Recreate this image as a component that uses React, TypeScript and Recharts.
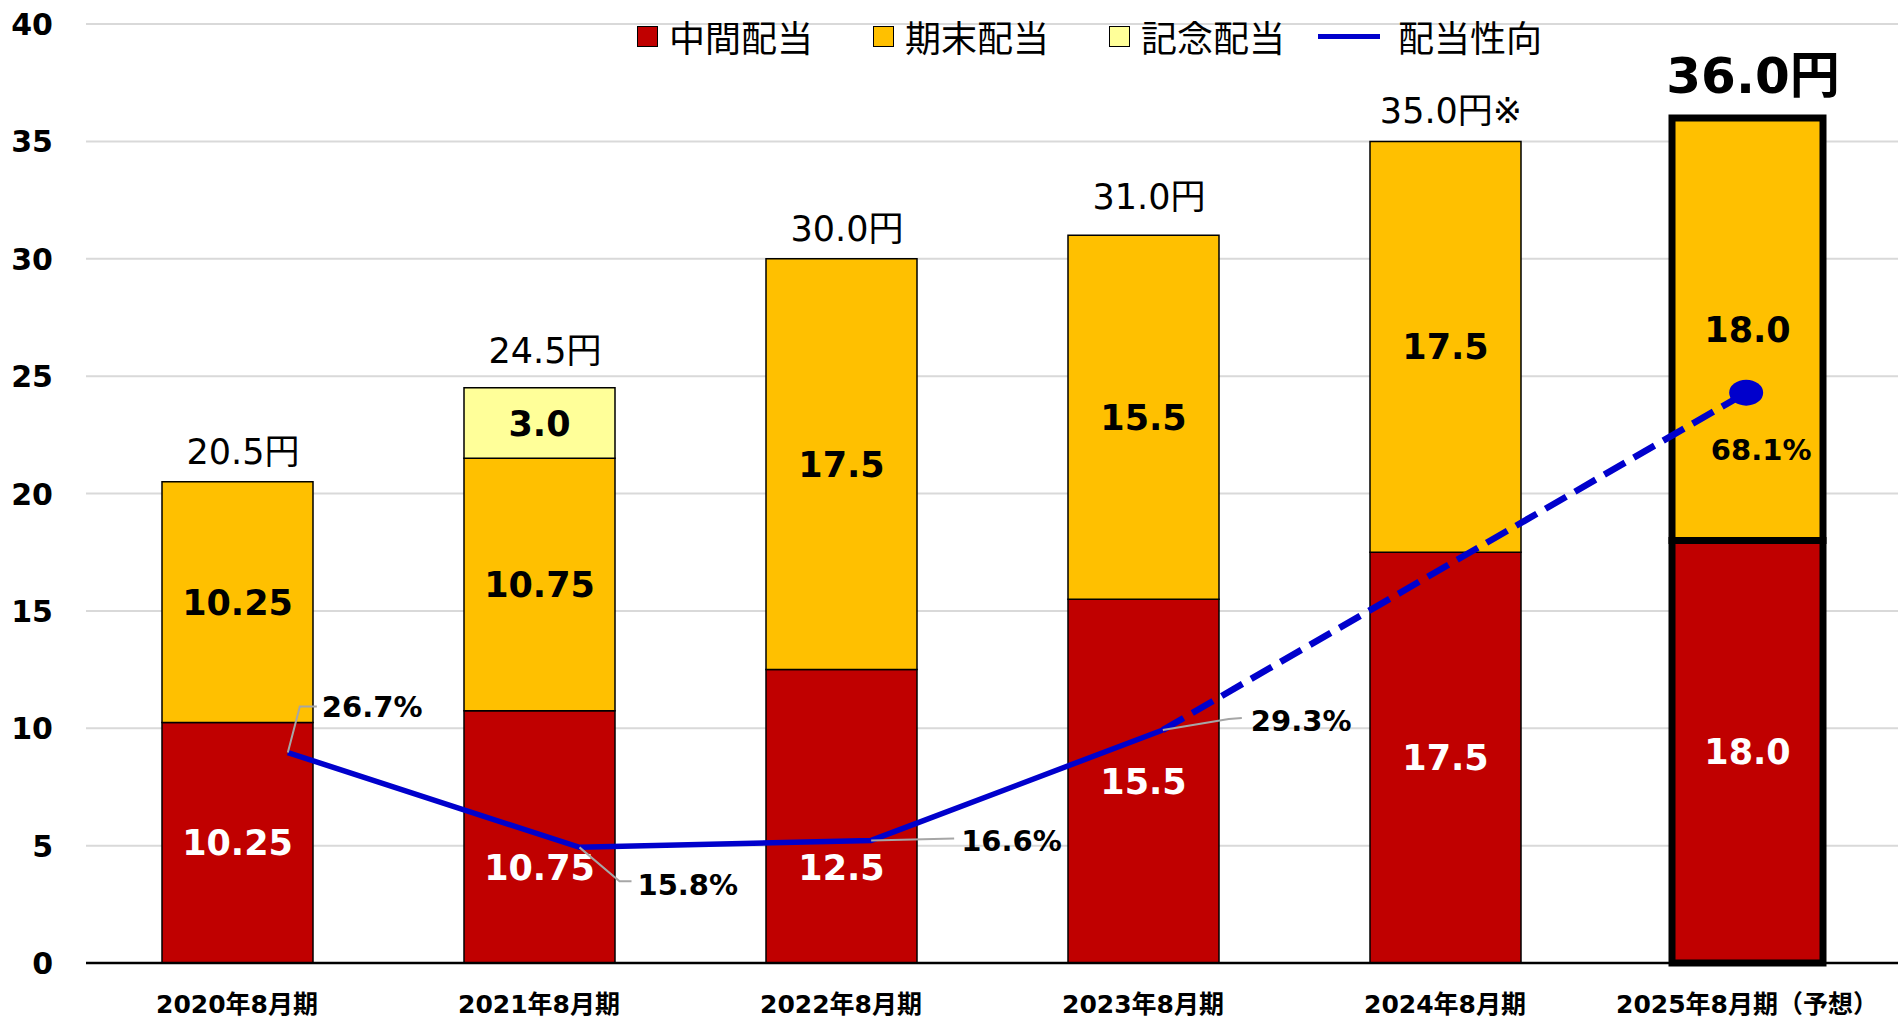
import React from 'react';
import {
  ComposedChart,
  Bar,
  Line,
  XAxis,
  YAxis,
  CartesianGrid,
  Cell,
  LabelList,
} from 'recharts';

// 決算期
const periods = ['2020年8月期', '2021年8月期', '2022年8月期', '2023年8月期', '2024年8月期', '2025年8月期（予想）'];
// 配当（円）
const interimDividend = [10.25, 10.75, 12.5, 15.5, 17.5, 18.0];
const yearEndDividend = [10.25, 10.75, 17.5, 15.5, 17.5, 18.0];
const commemorativeDividend = [0, 3.0, 0, 0, 0, 0];
const totalDividend = [20.5, 24.5, 30.0, 31.0, 35.0, 36.0];
const totalNote = ['', '', '', '', '※', ''];
// 配当性向（%）
const payoutRatio: (number | null)[] = [26.7, 15.8, 16.6, 29.3, null, 68.1];
const lastActualIndex = 3;
const forecastIndex = 5;
const yTicks = [0, 5, 10, 15, 20, 25, 30, 35, 40];

const RED = '#C00000';
const ORANGE = '#FFC000';
const PALE = '#FFFF99';
const BLUE = '#0000CC';
const FONT = "'DejaVu Sans', 'Noto Sans CJK JP', sans-serif";
const CJK = "'Noto Sans CJK JP', sans-serif";

const data = periods.map((period, i) => ({
  period,
  interim: interimDividend[i],
  yearEnd: yearEndDividend[i],
  commemorative: commemorativeDividend[i],
  total: totalDividend[i],
  ratioActual: i <= lastActualIndex ? payoutRatio[i] : null,
  ratioForecast: i >= lastActualIndex ? payoutRatio[i] : null,
}));

// ラベルの位置調整（線と重ならないように）
const interimNudge = [0, 31, 51, 0, 0, 0];
const totalNudge = [0, -7, 0, -8, 0, 0];
const ratioLabelLayout: Record<number, { leader: number[][]; tx: number; ty: number; anchor: string }> = {
  0: { leader: [[0, 0], [12, -46], [29, -46]], tx: 34, ty: -46, anchor: 'start' },
  1: { leader: [[0, 0], [40, 34], [52, 34]], tx: 58, ty: 37, anchor: 'start' },
  2: { leader: [[0, 0], [83, -2]], tx: 90, ty: 0, anchor: 'start' },
  3: { leader: [[0, 0], [66, -11], [79, -12]], tx: 88, ty: -9, anchor: 'start' },
  5: { leader: [], tx: 15, ty: 57, anchor: 'middle' },
};

const segLabel = (color: string, nudge?: number[]) => (p: any) => {
  const { x, y, width, height, value, index } = p;
  if (!value) return null;
  const cy = y + height / 2 + (nudge ? nudge[index] : 0);
  return (
    <text x={x + width / 2} y={cy + 12.5} textAnchor="middle" fill={color}
      fontSize={35} fontWeight="bold" fontFamily={FONT}>
      {value.toFixed(value % 1 === 0 ? 1 : String(value).split('.')[1].length)}
    </text>
  );
};

// 合計ラベル（透明な線の点の上に置く）
const totalLabel = (p: any) => {
  const { x, y, index, value } = p;
  const big = index === forecastIndex;
  return (
    <text x={x + 6} y={y - (big ? 25 : 18) + totalNudge[index]} textAnchor="middle" fill="#000"
      fontSize={big ? 50 : 35} fontWeight={big ? 'bold' : 'normal'} fontFamily={FONT}>
      {value.toFixed(1) + '円' + totalNote[index]}
    </text>
  );
};

const ratioLabel = (p: any) => {
  const { x, y, value, index } = p;
  const layout = ratioLabelLayout[index];
  if (value == null || !layout) return null;
  const pts = layout.leader.map(([dx, dy]) => `${x + dx},${y + dy}`).join(' ');
  return (
    <g>
      {layout.leader.length > 0 && (
        <polyline points={pts} fill="none" stroke="#A6A6A6" strokeWidth={2} />
      )}
      <text x={x + layout.tx} y={y + layout.ty + 10.5} textAnchor={layout.anchor as any}
        fontSize={29} fontWeight="bold" fontFamily={FONT} fill="#000">
        {value.toFixed(1)}%
      </text>
    </g>
  );
};

const XTick = ({ x, y, payload }: any) => (
  <text x={x} y={y + 50} textAnchor="middle" fontSize={25} fontWeight="bold" fontFamily={FONT} fill="#000">
    {payload.value}
  </text>
);

const YTick = ({ x, y, payload }: any) => (
  <text x={x} y={y + 11} textAnchor="end" fontSize={30} fontWeight="bold" fontFamily={FONT} fill="#000">
    {payload.value}
  </text>
);

const ForecastDot = (p: any) => {
  if (p.index !== forecastIndex || p.value == null) return <g key={`d${p.index}`} />;
  return <ellipse key={`d${p.index}`} cx={p.cx} cy={p.cy} rx={17} ry={13} fill={BLUE} />;
};

const legendItems = [
  { name: '中間配当', color: RED, type: 'box', left: 637 },
  { name: '期末配当', color: ORANGE, type: 'box', left: 873 },
  { name: '記念配当', color: PALE, type: 'box', left: 1109 },
  { name: '配当性向', color: BLUE, type: 'line', left: 1318 },
];

function ChartLegend() {
  return (
    <>
      {legendItems.map((it) => (
        <div key={it.name} style={{ position: 'absolute', left: it.left, top: 14, height: 44, display: 'flex', alignItems: 'center', fontFamily: CJK, fontSize: 36, lineHeight: '44px', color: '#000', whiteSpace: 'nowrap' }}>
          {it.type === 'box' ? (
            <span style={{ width: 19, height: 19, background: it.color, border: '1.5px solid #000', marginRight: 11, display: 'inline-block' }} />
          ) : (
            <span style={{ width: 62, height: 5, background: it.color, marginRight: 18, display: 'inline-block' }} />
          )}
          <span>{it.name}</span>
        </div>
      ))}
    </>
  );
}

export default function App() {
  const cellStroke = (i: number) => (i === forecastIndex ? 7 : 1.5);
  return (
    <div style={{ position: 'absolute', left: 0, top: 0, width: 1898, height: 1018, background: '#fff' }}>
      <ComposedChart width={1898} height={1018} data={data} margin={{ top: 24, right: 0, bottom: 0, left: 0 }}>
        <CartesianGrid vertical={false} stroke="#D9D9D9" strokeWidth={2} />
        <XAxis dataKey="period" height={55} tickLine={false} tickSize={0} tickMargin={0}
          axisLine={{ stroke: '#000', strokeWidth: 2.5 }} tick={<XTick />} interval={0} />
        <XAxis xAxisId="line" dataKey="period" hide padding={{ left: 56, right: 6 }} />
        <YAxis width={86} domain={[0, 40]} ticks={yTicks} axisLine={false} tickLine={false}
          tickSize={0} tickMargin={33} tick={<YTick />} interval={0} />
        <YAxis yAxisId="pct" orientation="right" hide domain={[2.5, 110.5]} allowDataOverflow />

        <Bar dataKey="interim" stackId="d" fill={RED} stroke="#000" barSize={151} isAnimationActive={false}>
          {data.map((_, i) => <Cell key={i} fill={RED} stroke="#000" strokeWidth={cellStroke(i)} />)}
          <LabelList dataKey="interim" content={segLabel('#fff', interimNudge)} />
        </Bar>
        <Bar dataKey="yearEnd" stackId="d" fill={ORANGE} stroke="#000" barSize={151} isAnimationActive={false}>
          {data.map((_, i) => <Cell key={i} fill={ORANGE} stroke="#000" strokeWidth={cellStroke(i)} />)}
          <LabelList dataKey="yearEnd" content={segLabel('#000')} />
        </Bar>
        <Bar dataKey="commemorative" stackId="d" fill={PALE} stroke="#000" barSize={151} isAnimationActive={false}>
          {data.map((_, i) => <Cell key={i} fill={PALE} stroke="#000" strokeWidth={cellStroke(i)} />)}
          <LabelList dataKey="commemorative" content={segLabel('#000')} />
        </Bar>

        <Line dataKey="total" stroke="none" dot={false} activeDot={false} legendType="none" isAnimationActive={false}>
          <LabelList dataKey="total" content={totalLabel} />
        </Line>

        <Line xAxisId="line" yAxisId="pct" dataKey="ratioActual" stroke={BLUE} strokeWidth={5.5}
          dot={false} activeDot={false} isAnimationActive={false}>
          <LabelList dataKey="ratioActual" content={ratioLabel} />
        </Line>
        <Line xAxisId="line" yAxisId="pct" dataKey="ratioForecast" stroke={BLUE} strokeWidth={6.5}
          strokeDasharray="24 10" connectNulls dot={ForecastDot} activeDot={false} isAnimationActive={false}>
          <LabelList dataKey="ratioForecast" content={(p: any) => (p.index === forecastIndex ? ratioLabel(p) : null)} />
        </Line>
      </ComposedChart>
      <ChartLegend />
    </div>
  );
}
